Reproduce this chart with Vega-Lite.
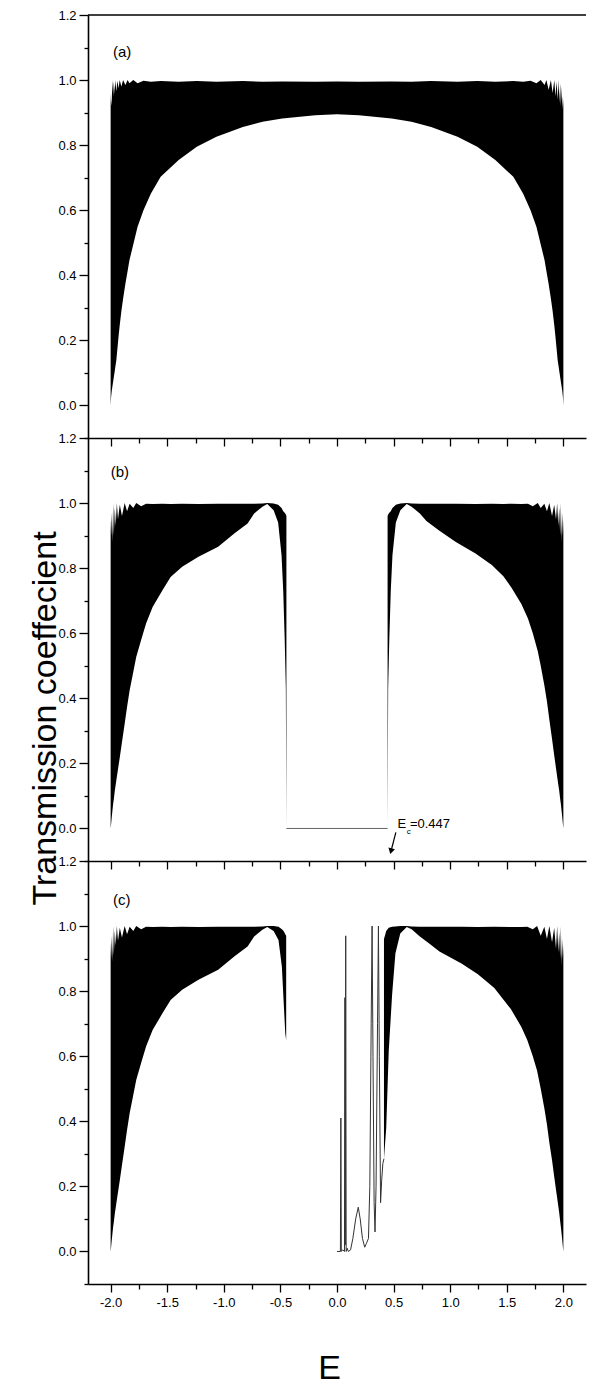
{
"$schema": "https://vega.github.io/schema/vega-lite/v6.json",
"background": "white",
"padding": {"left": 28, "top": 9, "right": 4, "bottom": 0},
"bounds": "flush",
"spacing": 0,
"config": {
  "font": "Liberation Sans",
  "view": {"stroke": null},
  "axis": {"domainColor": "#000", "domainWidth": 1.6, "tickColor": "#000", "tickWidth": 1.3, "labelColor": "#000", "labelFont": "Liberation Sans", "titleFont": "Liberation Sans", "titleFontWeight": "normal", "titleColor": "#000", "grid": false}
},
"datasets": {
"bands": [
{"panel":"a","band":"F","E":-2.0,"lo":0,"hi":0.96},
{"panel":"a","band":"F","E":-1.996,"lo":0.025,"hi":0.92},
{"panel":"a","band":"F","E":-1.99,"lo":0.045,"hi":0.94},
{"panel":"a","band":"F","E":-1.984,"lo":0.059,"hi":1.0},
{"panel":"a","band":"F","E":-1.978,"lo":0.073,"hi":0.95},
{"panel":"a","band":"F","E":-1.972,"lo":0.087,"hi":0.995},
{"panel":"a","band":"F","E":-1.965,"lo":0.103,"hi":0.96},
{"panel":"a","band":"F","E":-1.958,"lo":0.12,"hi":1.0},
{"panel":"a","band":"F","E":-1.95,"lo":0.138,"hi":0.965},
{"panel":"a","band":"F","E":-1.94,"lo":0.175,"hi":0.998},
{"panel":"a","band":"F","E":-1.93,"lo":0.212,"hi":0.975},
{"panel":"a","band":"F","E":-1.92,"lo":0.246,"hi":1.0},
{"panel":"a","band":"F","E":-1.905,"lo":0.29,"hi":0.98},
{"panel":"a","band":"F","E":-1.89,"lo":0.328,"hi":1.0},
{"panel":"a","band":"F","E":-1.87,"lo":0.373,"hi":0.985},
{"panel":"a","band":"F","E":-1.85,"lo":0.413,"hi":1.0},
{"panel":"a","band":"F","E":-1.834,"lo":0.446,"hi":0.99},
{"panel":"a","band":"F","E":-1.8,"lo":0.495,"hi":1.0},
{"panel":"a","band":"F","E":-1.762,"lo":0.549,"hi":0.99},
{"panel":"a","band":"F","E":-1.71,"lo":0.6,"hi":0.998},
{"panel":"a","band":"F","E":-1.645,"lo":0.651,"hi":0.995},
{"panel":"a","band":"F","E":-1.558,"lo":0.703,"hi":0.997},
{"panel":"a","band":"F","E":-1.399,"lo":0.754,"hi":0.995},
{"panel":"a","band":"F","E":-1.239,"lo":0.795,"hi":0.997},
{"panel":"a","band":"F","E":-1.065,"lo":0.826,"hi":0.995},
{"panel":"a","band":"F","E":-0.832,"lo":0.856,"hi":0.997},
{"panel":"a","band":"F","E":-0.658,"lo":0.872,"hi":0.995},
{"panel":"a","band":"F","E":-0.484,"lo":0.882,"hi":0.996},
{"panel":"a","band":"F","E":-0.193,"lo":0.892,"hi":0.995},
{"panel":"a","band":"F","E":0.0,"lo":0.895,"hi":0.996},
{"panel":"a","band":"F","E":0.193,"lo":0.892,"hi":0.995},
{"panel":"a","band":"F","E":0.484,"lo":0.882,"hi":0.996},
{"panel":"a","band":"F","E":0.658,"lo":0.872,"hi":0.995},
{"panel":"a","band":"F","E":0.832,"lo":0.856,"hi":0.997},
{"panel":"a","band":"F","E":1.065,"lo":0.826,"hi":0.995},
{"panel":"a","band":"F","E":1.239,"lo":0.795,"hi":0.997},
{"panel":"a","band":"F","E":1.399,"lo":0.754,"hi":0.995},
{"panel":"a","band":"F","E":1.558,"lo":0.703,"hi":0.997},
{"panel":"a","band":"F","E":1.645,"lo":0.651,"hi":0.995},
{"panel":"a","band":"F","E":1.71,"lo":0.6,"hi":0.998},
{"panel":"a","band":"F","E":1.762,"lo":0.549,"hi":0.99},
{"panel":"a","band":"F","E":1.8,"lo":0.495,"hi":1.0},
{"panel":"a","band":"F","E":1.834,"lo":0.446,"hi":0.985},
{"panel":"a","band":"F","E":1.85,"lo":0.413,"hi":1.0},
{"panel":"a","band":"F","E":1.87,"lo":0.373,"hi":0.97},
{"panel":"a","band":"F","E":1.89,"lo":0.328,"hi":1.0},
{"panel":"a","band":"F","E":1.905,"lo":0.29,"hi":0.96},
{"panel":"a","band":"F","E":1.92,"lo":0.246,"hi":1.0},
{"panel":"a","band":"F","E":1.93,"lo":0.212,"hi":0.95},
{"panel":"a","band":"F","E":1.94,"lo":0.175,"hi":0.995},
{"panel":"a","band":"F","E":1.95,"lo":0.138,"hi":0.94},
{"panel":"a","band":"F","E":1.958,"lo":0.12,"hi":1.0},
{"panel":"a","band":"F","E":1.965,"lo":0.103,"hi":0.93},
{"panel":"a","band":"F","E":1.972,"lo":0.087,"hi":0.99},
{"panel":"a","band":"F","E":1.978,"lo":0.073,"hi":0.92},
{"panel":"a","band":"F","E":1.984,"lo":0.059,"hi":0.98},
{"panel":"a","band":"F","E":1.99,"lo":0.045,"hi":0.91},
{"panel":"a","band":"F","E":1.996,"lo":0.025,"hi":0.95},
{"panel":"a","band":"F","E":2.0,"lo":0,"hi":0.92},

{"panel":"b","band":"L","E":-2.0,"lo":0,"hi":0.95},
{"panel":"b","band":"L","E":-1.996,"lo":0.013,"hi":0.9},
{"panel":"b","band":"L","E":-1.99,"lo":0.035,"hi":0.97},
{"panel":"b","band":"L","E":-1.984,"lo":0.055,"hi":0.88},
{"panel":"b","band":"L","E":-1.978,"lo":0.075,"hi":1.0},
{"panel":"b","band":"L","E":-1.972,"lo":0.09,"hi":0.9},
{"panel":"b","band":"L","E":-1.963,"lo":0.117,"hi":0.985},
{"panel":"b","band":"L","E":-1.955,"lo":0.135,"hi":0.93},
{"panel":"b","band":"L","E":-1.945,"lo":0.159,"hi":1.0},
{"panel":"b","band":"L","E":-1.935,"lo":0.182,"hi":0.95},
{"panel":"b","band":"L","E":-1.919,"lo":0.219,"hi":0.995},
{"panel":"b","band":"L","E":-1.9,"lo":0.265,"hi":0.96},
{"panel":"b","band":"L","E":-1.876,"lo":0.322,"hi":1.0},
{"panel":"b","band":"L","E":-1.855,"lo":0.373,"hi":0.975},
{"panel":"b","band":"L","E":-1.832,"lo":0.425,"hi":0.998},
{"panel":"b","band":"L","E":-1.8,"lo":0.481,"hi":0.985},
{"panel":"b","band":"L","E":-1.774,"lo":0.527,"hi":1.0},
{"panel":"b","band":"L","E":-1.73,"lo":0.58,"hi":0.99},
{"panel":"b","band":"L","E":-1.687,"lo":0.63,"hi":0.998},
{"panel":"b","band":"L","E":-1.629,"lo":0.681,"hi":0.997},
{"panel":"b","band":"L","E":-1.542,"lo":0.732,"hi":0.998},
{"panel":"b","band":"L","E":-1.47,"lo":0.773,"hi":0.997},
{"panel":"b","band":"L","E":-1.368,"lo":0.804,"hi":0.998},
{"panel":"b","band":"L","E":-1.224,"lo":0.835,"hi":0.997},
{"panel":"b","band":"L","E":-1.05,"lo":0.866,"hi":0.998},
{"panel":"b","band":"L","E":-0.905,"lo":0.907,"hi":0.998},
{"panel":"b","band":"L","E":-0.79,"lo":0.937,"hi":0.998},
{"panel":"b","band":"L","E":-0.732,"lo":0.968,"hi":0.998},
{"panel":"b","band":"L","E":-0.659,"lo":0.989,"hi":0.999},
{"panel":"b","band":"L","E":-0.616,"lo":0.997,"hi":1.0},
{"panel":"b","band":"L","E":-0.56,"lo":0.978,"hi":0.999},
{"panel":"b","band":"L","E":-0.52,"lo":0.94,"hi":0.995},
{"panel":"b","band":"L","E":-0.49,"lo":0.84,"hi":0.985},
{"panel":"b","band":"L","E":-0.475,"lo":0.73,"hi":0.975},
{"panel":"b","band":"L","E":-0.462,"lo":0.58,"hi":0.97},
{"panel":"b","band":"L","E":-0.452,"lo":0.43,"hi":0.965},
{"panel":"b","band":"L","E":-0.447,"lo":0.0,"hi":0.96},

{"panel":"b","band":"R","E":0.447,"lo":0.0,"hi":0.96},
{"panel":"b","band":"R","E":0.452,"lo":0.43,"hi":0.965},
{"panel":"b","band":"R","E":0.462,"lo":0.58,"hi":0.97},
{"panel":"b","band":"R","E":0.475,"lo":0.73,"hi":0.975},
{"panel":"b","band":"R","E":0.49,"lo":0.84,"hi":0.985},
{"panel":"b","band":"R","E":0.52,"lo":0.94,"hi":0.995},
{"panel":"b","band":"R","E":0.56,"lo":0.978,"hi":0.999},
{"panel":"b","band":"R","E":0.616,"lo":0.997,"hi":1.0},
{"panel":"b","band":"R","E":0.659,"lo":0.989,"hi":0.999},
{"panel":"b","band":"R","E":0.732,"lo":0.968,"hi":0.998},
{"panel":"b","band":"R","E":0.79,"lo":0.945,"hi":0.998},
{"panel":"b","band":"R","E":0.905,"lo":0.915,"hi":0.998},
{"panel":"b","band":"R","E":1.05,"lo":0.88,"hi":0.998},
{"panel":"b","band":"R","E":1.224,"lo":0.845,"hi":0.997},
{"panel":"b","band":"R","E":1.368,"lo":0.81,"hi":0.998},
{"panel":"b","band":"R","E":1.47,"lo":0.775,"hi":0.997},
{"panel":"b","band":"R","E":1.542,"lo":0.74,"hi":0.998},
{"panel":"b","band":"R","E":1.629,"lo":0.69,"hi":0.997},
{"panel":"b","band":"R","E":1.687,"lo":0.645,"hi":0.998},
{"panel":"b","band":"R","E":1.73,"lo":0.6,"hi":0.99},
{"panel":"b","band":"R","E":1.774,"lo":0.545,"hi":1.0},
{"panel":"b","band":"R","E":1.8,"lo":0.5,"hi":0.985},
{"panel":"b","band":"R","E":1.832,"lo":0.44,"hi":0.998},
{"panel":"b","band":"R","E":1.855,"lo":0.39,"hi":0.975},
{"panel":"b","band":"R","E":1.876,"lo":0.335,"hi":1.0},
{"panel":"b","band":"R","E":1.9,"lo":0.275,"hi":0.96},
{"panel":"b","band":"R","E":1.919,"lo":0.225,"hi":0.995},
{"panel":"b","band":"R","E":1.935,"lo":0.185,"hi":0.95},
{"panel":"b","band":"R","E":1.945,"lo":0.16,"hi":1.0},
{"panel":"b","band":"R","E":1.955,"lo":0.135,"hi":0.93},
{"panel":"b","band":"R","E":1.963,"lo":0.117,"hi":0.985},
{"panel":"b","band":"R","E":1.972,"lo":0.09,"hi":0.9},
{"panel":"b","band":"R","E":1.978,"lo":0.075,"hi":1.0},
{"panel":"b","band":"R","E":1.984,"lo":0.055,"hi":0.88},
{"panel":"b","band":"R","E":1.99,"lo":0.035,"hi":0.97},
{"panel":"b","band":"R","E":1.996,"lo":0.013,"hi":0.9},
{"panel":"b","band":"R","E":2.0,"lo":0,"hi":0.95},

{"panel":"c","band":"L","E":-2.0,"lo":0,"hi":0.95},
{"panel":"c","band":"L","E":-1.996,"lo":0.013,"hi":0.9},
{"panel":"c","band":"L","E":-1.99,"lo":0.035,"hi":0.97},
{"panel":"c","band":"L","E":-1.984,"lo":0.055,"hi":0.89},
{"panel":"c","band":"L","E":-1.978,"lo":0.075,"hi":1.0},
{"panel":"c","band":"L","E":-1.972,"lo":0.09,"hi":0.91},
{"panel":"c","band":"L","E":-1.963,"lo":0.117,"hi":0.985},
{"panel":"c","band":"L","E":-1.955,"lo":0.135,"hi":0.94},
{"panel":"c","band":"L","E":-1.945,"lo":0.159,"hi":1.0},
{"panel":"c","band":"L","E":-1.935,"lo":0.182,"hi":0.955},
{"panel":"c","band":"L","E":-1.919,"lo":0.219,"hi":0.995},
{"panel":"c","band":"L","E":-1.9,"lo":0.265,"hi":0.965},
{"panel":"c","band":"L","E":-1.876,"lo":0.322,"hi":1.0},
{"panel":"c","band":"L","E":-1.855,"lo":0.373,"hi":0.975},
{"panel":"c","band":"L","E":-1.832,"lo":0.425,"hi":0.998},
{"panel":"c","band":"L","E":-1.8,"lo":0.481,"hi":0.985},
{"panel":"c","band":"L","E":-1.774,"lo":0.527,"hi":1.0},
{"panel":"c","band":"L","E":-1.73,"lo":0.58,"hi":0.99},
{"panel":"c","band":"L","E":-1.687,"lo":0.63,"hi":0.998},
{"panel":"c","band":"L","E":-1.629,"lo":0.681,"hi":0.997},
{"panel":"c","band":"L","E":-1.542,"lo":0.732,"hi":0.998},
{"panel":"c","band":"L","E":-1.47,"lo":0.773,"hi":0.997},
{"panel":"c","band":"L","E":-1.368,"lo":0.804,"hi":0.998},
{"panel":"c","band":"L","E":-1.224,"lo":0.835,"hi":0.997},
{"panel":"c","band":"L","E":-1.05,"lo":0.866,"hi":0.998},
{"panel":"c","band":"L","E":-0.905,"lo":0.907,"hi":0.998},
{"panel":"c","band":"L","E":-0.79,"lo":0.937,"hi":0.998},
{"panel":"c","band":"L","E":-0.732,"lo":0.968,"hi":0.998},
{"panel":"c","band":"L","E":-0.659,"lo":0.989,"hi":0.999},
{"panel":"c","band":"L","E":-0.616,"lo":0.997,"hi":1.0},
{"panel":"c","band":"L","E":-0.56,"lo":0.985,"hi":1.0},
{"panel":"c","band":"L","E":-0.517,"lo":0.957,"hi":0.998},
{"panel":"c","band":"L","E":-0.487,"lo":0.875,"hi":0.99},
{"panel":"c","band":"L","E":-0.472,"lo":0.772,"hi":0.985},
{"panel":"c","band":"L","E":-0.457,"lo":0.67,"hi":0.975},
{"panel":"c","band":"L","E":-0.449,"lo":0.649,"hi":0.97},

{"panel":"c","band":"R","E":0.415,"lo":0.285,"hi":0.96},
{"panel":"c","band":"R","E":0.435,"lo":0.38,"hi":0.985},
{"panel":"c","band":"R","E":0.457,"lo":0.615,"hi":0.995},
{"panel":"c","band":"R","E":0.487,"lo":0.79,"hi":0.998},
{"panel":"c","band":"R","E":0.516,"lo":0.916,"hi":0.999},
{"panel":"c","band":"R","E":0.559,"lo":0.977,"hi":1.0},
{"panel":"c","band":"R","E":0.616,"lo":0.997,"hi":1.0},
{"panel":"c","band":"R","E":0.659,"lo":0.99,"hi":0.999},
{"panel":"c","band":"R","E":0.732,"lo":0.968,"hi":0.998},
{"panel":"c","band":"R","E":0.809,"lo":0.948,"hi":0.998},
{"panel":"c","band":"R","E":0.905,"lo":0.922,"hi":0.998},
{"panel":"c","band":"R","E":1.1,"lo":0.885,"hi":0.998},
{"panel":"c","band":"R","E":1.245,"lo":0.852,"hi":0.997},
{"panel":"c","band":"R","E":1.39,"lo":0.81,"hi":0.998},
{"panel":"c","band":"R","E":1.536,"lo":0.745,"hi":0.997},
{"panel":"c","band":"R","E":1.629,"lo":0.69,"hi":0.997},
{"panel":"c","band":"R","E":1.681,"lo":0.65,"hi":0.998},
{"panel":"c","band":"R","E":1.73,"lo":0.6,"hi":0.99},
{"panel":"c","band":"R","E":1.768,"lo":0.555,"hi":1.0},
{"panel":"c","band":"R","E":1.8,"lo":0.5,"hi":0.97},
{"panel":"c","band":"R","E":1.832,"lo":0.44,"hi":0.998},
{"panel":"c","band":"R","E":1.855,"lo":0.39,"hi":0.96},
{"panel":"c","band":"R","E":1.876,"lo":0.335,"hi":1.0},
{"panel":"c","band":"R","E":1.9,"lo":0.28,"hi":0.95},
{"panel":"c","band":"R","E":1.919,"lo":0.23,"hi":0.995},
{"panel":"c","band":"R","E":1.935,"lo":0.19,"hi":0.93},
{"panel":"c","band":"R","E":1.945,"lo":0.165,"hi":1.0},
{"panel":"c","band":"R","E":1.955,"lo":0.14,"hi":0.92},
{"panel":"c","band":"R","E":1.963,"lo":0.12,"hi":0.98},
{"panel":"c","band":"R","E":1.972,"lo":0.092,"hi":0.9},
{"panel":"c","band":"R","E":1.978,"lo":0.075,"hi":1.0},
{"panel":"c","band":"R","E":1.984,"lo":0.055,"hi":0.88},
{"panel":"c","band":"R","E":1.99,"lo":0.035,"hi":0.96},
{"panel":"c","band":"R","E":1.996,"lo":0.013,"hi":0.9},
{"panel":"c","band":"R","E":2.0,"lo":0,"hi":0.94}
],
"lines": [
{"panel":"b","seg":"gap","E":-0.447,"T":0.0},
{"panel":"b","seg":"gap","E":0.447,"T":0.0},
{"panel":"c","seg":"mid","E":0.0,"T":0.0},
{"panel":"c","seg":"mid","E":0.03,"T":0.0},
{"panel":"c","seg":"mid","E":0.034,"T":0.41},
{"panel":"c","seg":"mid","E":0.038,"T":0.0},
{"panel":"c","seg":"mid","E":0.05,"T":0.005},
{"panel":"c","seg":"mid","E":0.066,"T":0.0},
{"panel":"c","seg":"mid","E":0.07,"T":0.78},
{"panel":"c","seg":"mid","E":0.073,"T":0.02},
{"panel":"c","seg":"mid","E":0.077,"T":0.97},
{"panel":"c","seg":"mid","E":0.081,"T":0.0},
{"panel":"c","seg":"mid","E":0.09,"T":0.01},
{"panel":"c","seg":"mid","E":0.1,"T":0.0},
{"panel":"c","seg":"mid","E":0.12,"T":0.005},
{"panel":"c","seg":"mid","E":0.14,"T":0.04},
{"panel":"c","seg":"mid","E":0.165,"T":0.1},
{"panel":"c","seg":"mid","E":0.188,"T":0.136},
{"panel":"c","seg":"mid","E":0.205,"T":0.1},
{"panel":"c","seg":"mid","E":0.225,"T":0.04},
{"panel":"c","seg":"mid","E":0.245,"T":0.013},
{"panel":"c","seg":"mid","E":0.26,"T":0.025},
{"panel":"c","seg":"mid","E":0.278,"T":0.04},
{"panel":"c","seg":"mid","E":0.29,"T":0.2},
{"panel":"c","seg":"mid","E":0.302,"T":0.7},
{"panel":"c","seg":"mid","E":0.31,"T":1.0},
{"panel":"c","seg":"mid","E":0.318,"T":0.6},
{"panel":"c","seg":"mid","E":0.328,"T":0.15},
{"panel":"c","seg":"mid","E":0.336,"T":0.06},
{"panel":"c","seg":"mid","E":0.345,"T":0.2},
{"panel":"c","seg":"mid","E":0.358,"T":0.7},
{"panel":"c","seg":"mid","E":0.366,"T":1.0},
{"panel":"c","seg":"mid","E":0.374,"T":0.6},
{"panel":"c","seg":"mid","E":0.385,"T":0.15},
{"panel":"c","seg":"mid","E":0.395,"T":0.22},
{"panel":"c","seg":"mid","E":0.405,"T":0.27},
{"panel":"c","seg":"mid","E":0.415,"T":0.285}
],
"labels": [
{"panel":"a","role":"tag","E":-1.98,"T":1.085,"text":"(a)"},
{"panel":"b","role":"tag","E":-2.0,"T":1.094,"text":"(b)"},
{"panel":"c","role":"tag","E":-1.98,"T":1.08,"text":"(c)"},
{"panel":"b","role":"main","E":0.535,"T":0.0,"text":"E"},
{"panel":"b","role":"sub","E":0.617,"T":-0.018,"text":"c"},
{"panel":"b","role":"main","E":0.644,"T":0.0,"text":"=0.447"}
],
"arrow": [
{"panel":"b","E":0.52,"T":-0.012,"E2":0.477,"T2":-0.07}
]
},
"vconcat": [
{
"width": 498, "height": 423,
"resolve": {"axis": {"x": "independent", "y": "independent"}},
"layer": [
{"data": {"name": "bands"}, "transform": [{"filter": "datum.panel == 'a'"}],
 "mark": {"type": "area", "color": "#000", "opacity": 1},
 "encoding": {
  "x": {"field": "E", "type": "quantitative", "scale": {"domain": [-2.2, 2.2], "nice": false, "zero": false},
        "axis": {"orient": "bottom", "values": [-2,-1.5,-1,-0.5,0,0.5,1,1.5,2], "labels": false, "title": null, "tickSize": 8}},
  "y": {"field": "hi", "type": "quantitative", "scale": {"domain": [-0.1, 1.2], "nice": false, "zero": false},
        "axis": {"orient": "left", "values": [0,0.2,0.4,0.6,0.8,1,1.2], "format": ".1f", "title": null, "labelFontSize": 13, "labelPadding": 3, "labelOverlap": false, "labelFlush": false, "tickSize": 9}},
  "y2": {"field": "lo"},
  "detail": {"field": "band"}
 }},
{"data": {"values": [{}]},
 "mark": {"type": "rule", "color": "#000", "strokeWidth": 1.6},
 "encoding": {"y": {"datum": 1.2, "type": "quantitative", "scale": {"domain": [-0.1, 1.2], "nice": false, "zero": false}, "axis": null}}},
{"data": {"name": "labels"}, "transform": [{"filter": "datum.panel == 'a' && datum.role == 'tag'"}],
 "mark": {"type": "text", "align": "left", "baseline": "middle", "fontSize": 15, "color": "#000"},
 "encoding": {
  "x": {"field": "E", "type": "quantitative", "scale": {"domain": [-2.2, 2.2], "nice": false, "zero": false},
        "axis": {"orient": "bottom", "values": [-1.75,-1.25,-0.75,-0.25,0.25,0.75,1.25,1.75], "labels": false, "domain": false, "title": null, "tickSize": 5}},
  "y": {"field": "T", "type": "quantitative", "scale": {"domain": [-0.1, 1.2], "nice": false, "zero": false},
        "axis": {"orient": "left", "values": [-0.1,0.1,0.3,0.5,0.7,0.9,1.1], "labels": false, "domain": false, "title": null, "tickSize": 4}},
  "text": {"field": "text"}
 }}
]
},
{
"width": 498, "height": 423,
"resolve": {"axis": {"x": "independent", "y": "independent"}},
"layer": [
{"data": {"name": "bands"}, "transform": [{"filter": "datum.panel == 'b'"}],
 "mark": {"type": "area", "color": "#000", "opacity": 1},
 "encoding": {
  "x": {"field": "E", "type": "quantitative", "scale": {"domain": [-2.2, 2.2], "nice": false, "zero": false},
        "axis": {"orient": "bottom", "values": [-2,-1.5,-1,-0.5,0,0.5,1,1.5,2], "labels": false, "title": null, "tickSize": 8}},
  "y": {"field": "hi", "type": "quantitative", "scale": {"domain": [-0.1, 1.2], "nice": false, "zero": false},
        "axis": {"orient": "left", "values": [0,0.2,0.4,0.6,0.8,1,1.2], "format": ".1f", "labelFontSize": 13, "labelPadding": 3, "labelOverlap": false, "labelFlush": false, "tickSize": 9,
                 "title": "Transmission coeffecient", "titleFontSize": 34, "titleAngle": -90, "titleX": -33, "titleY": 280, "titleBaseline": "alphabetic", "titleAlign": "center"}},
  "y2": {"field": "lo"},
  "detail": {"field": "band"}
 }},
{"data": {"name": "lines"}, "transform": [{"filter": "datum.panel == 'b'"}],
 "mark": {"type": "line", "color": "#666", "strokeWidth": 1},
 "encoding": {
  "x": {"field": "E", "type": "quantitative", "scale": {"domain": [-2.2, 2.2], "nice": false, "zero": false}, "axis": null},
  "y": {"field": "T", "type": "quantitative", "scale": {"domain": [-0.1, 1.2], "nice": false, "zero": false}, "axis": null},
  "detail": {"field": "seg"}
 }},
{"data": {"name": "labels"}, "transform": [{"filter": "datum.panel == 'b' && datum.role == 'tag'"}],
 "mark": {"type": "text", "align": "left", "baseline": "middle", "fontSize": 15, "color": "#000"},
 "encoding": {
  "x": {"field": "E", "type": "quantitative", "scale": {"domain": [-2.2, 2.2], "nice": false, "zero": false},
        "axis": {"orient": "bottom", "values": [-1.75,-1.25,-0.75,-0.25,0.25,0.75,1.25,1.75], "labels": false, "domain": false, "title": null, "tickSize": 5}},
  "y": {"field": "T", "type": "quantitative", "scale": {"domain": [-0.1, 1.2], "nice": false, "zero": false},
        "axis": {"orient": "left", "values": [-0.1,0.1,0.3,0.5,0.7,0.9,1.1], "labels": false, "domain": false, "title": null, "tickSize": 4}},
  "text": {"field": "text"}
 }},
{"data": {"name": "labels"}, "transform": [{"filter": "datum.panel == 'b' && datum.role == 'main'"}],
 "mark": {"type": "text", "align": "left", "baseline": "alphabetic", "fontSize": 13, "color": "#000"},
 "encoding": {
  "x": {"field": "E", "type": "quantitative", "scale": {"domain": [-2.2, 2.2], "nice": false, "zero": false}, "axis": null},
  "y": {"field": "T", "type": "quantitative", "scale": {"domain": [-0.1, 1.2], "nice": false, "zero": false}, "axis": null},
  "text": {"field": "text"}
 }},
{"data": {"name": "labels"}, "transform": [{"filter": "datum.panel == 'b' && datum.role == 'sub'"}],
 "mark": {"type": "text", "align": "left", "baseline": "alphabetic", "fontSize": 8, "color": "#000"},
 "encoding": {
  "x": {"field": "E", "type": "quantitative", "scale": {"domain": [-2.2, 2.2], "nice": false, "zero": false}, "axis": null},
  "y": {"field": "T", "type": "quantitative", "scale": {"domain": [-0.1, 1.2], "nice": false, "zero": false}, "axis": null},
  "text": {"field": "text"}
 }},
{"data": {"name": "arrow"},
 "mark": {"type": "rule", "color": "#000", "strokeWidth": 1.2},
 "encoding": {
  "x": {"field": "E", "type": "quantitative", "scale": {"domain": [-2.2, 2.2], "nice": false, "zero": false}, "axis": null},
  "y": {"field": "T", "type": "quantitative", "scale": {"domain": [-0.1, 1.2], "nice": false, "zero": false}, "axis": null},
  "x2": {"field": "E2"},
  "y2": {"field": "T2"}
 }},
{"data": {"name": "arrow"},
 "mark": {"type": "point", "shape": "triangle-down", "filled": true, "color": "#000", "size": 45, "angle": 14, "opacity": 1},
 "encoding": {
  "x": {"field": "E2", "type": "quantitative", "scale": {"domain": [-2.2, 2.2], "nice": false, "zero": false}, "axis": null},
  "y": {"field": "T2", "type": "quantitative", "scale": {"domain": [-0.1, 1.2], "nice": false, "zero": false}, "axis": null}
 }}
]
},
{
"width": 498, "height": 423,
"resolve": {"axis": {"x": "independent", "y": "independent"}},
"layer": [
{"data": {"name": "bands"}, "transform": [{"filter": "datum.panel == 'c'"}],
 "mark": {"type": "area", "color": "#000", "opacity": 1},
 "encoding": {
  "x": {"field": "E", "type": "quantitative", "scale": {"domain": [-2.2, 2.2], "nice": false, "zero": false},
        "axis": {"orient": "bottom", "values": [-2,-1.5,-1,-0.5,0,0.5,1,1.5,2],
                 "labelExpr": "(datum.value < 0 ? '-' : '') + format(abs(datum.value), '.1f')",
                 "labelFontSize": 13, "labelPadding": 4, "labelFlush": false, "labelOverlap": false, "tickSize": 8,
                 "title": "E", "titleFontSize": 34, "titleX": 241, "titleY": 94, "titleBaseline": "alphabetic", "titleAlign": "center"}},
  "y": {"field": "hi", "type": "quantitative", "scale": {"domain": [-0.1, 1.2], "nice": false, "zero": false},
        "axis": {"orient": "left", "values": [0,0.2,0.4,0.6,0.8,1,1.2], "format": ".1f", "title": null, "labelFontSize": 13, "labelPadding": 3, "labelOverlap": false, "labelFlush": false, "tickSize": 9}},
  "y2": {"field": "lo"},
  "detail": {"field": "band"}
 }},
{"data": {"name": "lines"}, "transform": [{"filter": "datum.panel == 'c'"}],
 "mark": {"type": "line", "color": "#333", "strokeWidth": 1},
 "encoding": {
  "x": {"field": "E", "type": "quantitative", "scale": {"domain": [-2.2, 2.2], "nice": false, "zero": false}, "axis": null},
  "y": {"field": "T", "type": "quantitative", "scale": {"domain": [-0.1, 1.2], "nice": false, "zero": false}, "axis": null},
  "detail": {"field": "seg"}
 }},
{"data": {"name": "labels"}, "transform": [{"filter": "datum.panel == 'c' && datum.role == 'tag'"}],
 "mark": {"type": "text", "align": "left", "baseline": "middle", "fontSize": 15, "color": "#000"},
 "encoding": {
  "x": {"field": "E", "type": "quantitative", "scale": {"domain": [-2.2, 2.2], "nice": false, "zero": false},
        "axis": {"orient": "bottom", "values": [-1.75,-1.25,-0.75,-0.25,0.25,0.75,1.25,1.75], "labels": false, "domain": false, "title": null, "tickSize": 5}},
  "y": {"field": "T", "type": "quantitative", "scale": {"domain": [-0.1, 1.2], "nice": false, "zero": false},
        "axis": {"orient": "left", "values": [-0.1,0.1,0.3,0.5,0.7,0.9,1.1], "labels": false, "domain": false, "title": null, "tickSize": 4}},
  "text": {"field": "text"}
 }}
]
}
]
}
